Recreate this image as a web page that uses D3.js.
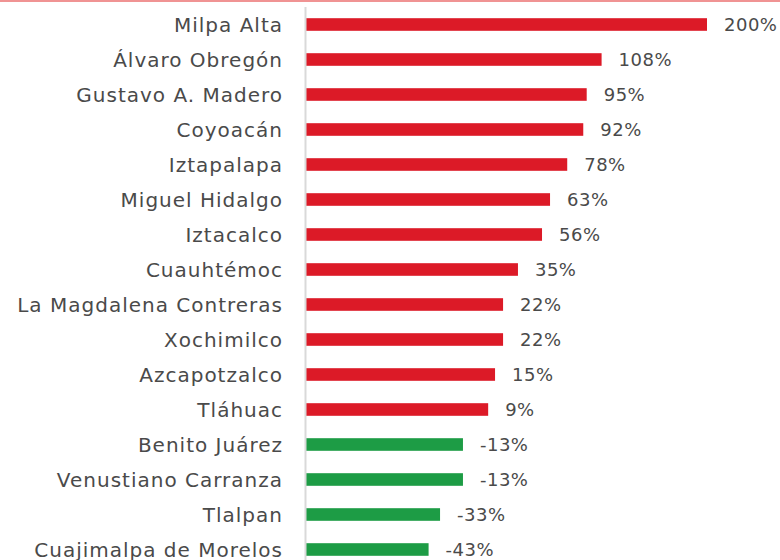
<!DOCTYPE html>
<html>
<head>
<meta charset="utf-8">
<script src="https://cdn.jsdelivr.net/npm/d3@7"></script>
<style>
  body { margin: 0; background: #fff; }
</style>
</head>
<body>
<div id="plot"></div>
<script>
// alcaldías and percentage change
const alcaldias = ["Milpa Alta", "Álvaro Obregón", "Gustavo A. Madero", "Coyoacán",
  "Iztapalapa", "Miguel Hidalgo", "Iztacalco", "Cuauhtémoc", "La Magdalena Contreras",
  "Xochimilco", "Azcapotzalco", "Tláhuac", "Benito Juárez", "Venustiano Carranza",
  "Tlalpan", "Cuajimalpa de Morelos"];
const cambios = [200, 108, 95, 92, 78, 63, 56, 35, 22, 22, 15, 9, -13, -13, -33, -43];

const w = 780;
const h = 560;
const margin = {top: 7, right: 0, bottom: -7, left: 306};

const svg = d3.select("div#plot")
  .append("svg")
  .attr("width", w)
  .attr("height", h);

svg.append("rect")
  .attr("width", w)
  .attr("height", h)
  .attr("fill", "white");

// pink rule at the very top
svg.append("rect")
  .attr("x", 0).attr("y", 0)
  .attr("width", w).attr("height", 2)
  .attr("fill", "#f09393");

// axis starts at -150, so negatives still draw to the right
const xScale = d3.scaleLinear()
  .domain([-150, 200])
  .range([margin.left, 707]);

const yScale = d3.scaleBand()
  .domain(alcaldias)
  .range([margin.top, h - margin.bottom])
  .paddingInner(0.64)
  .paddingOuter(0.32);

const bars = svg.append("g");
bars.selectAll(".bar")
  .data(alcaldias)
  .enter()
  .append("rect")
  .attr("class", "bar")
  .attr("x", xScale(-150))
  .attr("y", d => yScale(d))
  .attr("width", (d, i) => xScale(cambios[i]) - xScale(-150))
  .attr("height", yScale.bandwidth())
  .attr("fill", (d, i) => cambios[i] >= 0 ? "#dc1a27" : "#1d9c45");

// vertical axis line
svg.append("line")
  .attr("x1", margin.left - 0.5).attr("x2", margin.left - 0.5)
  .attr("y1", 7).attr("y2", h)
  .attr("stroke", "#d9d9d9")
  .attr("stroke-width", 2);

svg.append("g").selectAll("text")
  .data(alcaldias)
  .enter()
  .append("text")
  .attr("x", 283)
  .attr("y", d => yScale(d) + yScale.bandwidth() / 2)
  .attr("dy", "0.38em")
  .attr("text-anchor", "end")
  .attr("font-family", "'DejaVu Sans', sans-serif")
  .attr("font-size", 20)
  .attr("letter-spacing", 1)
  .attr("fill", "#4a4a4a")
  .text(d => d);

svg.append("g").selectAll("text")
  .data(alcaldias)
  .enter()
  .append("text")
  .attr("x", (d, i) => xScale(cambios[i]) + 17)
  .attr("y", d => yScale(d) + yScale.bandwidth() / 2)
  .attr("dy", "0.38em")
  .attr("font-family", "'DejaVu Sans', sans-serif")
  .attr("font-size", 18)
  .attr("letter-spacing", 0.5)
  .attr("fill", "#4a4a4a")
  .text((d, i) => cambios[i] + "%");
</script>
</body>
</html>
